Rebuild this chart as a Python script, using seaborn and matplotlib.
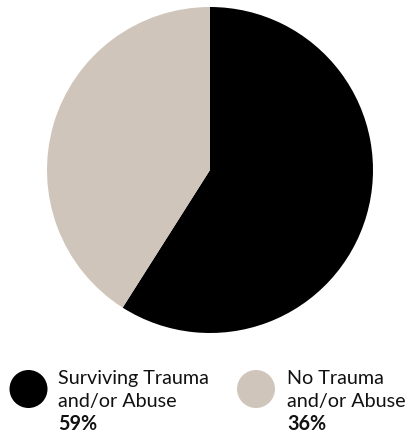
import numpy as np
import matplotlib
matplotlib.use("Agg")
import matplotlib.pyplot as plt
import seaborn as sns

# Survey shares (percent)
labels = ["Surviving Trauma\nand/or Abuse", "No Trauma\nand/or Abuse"]
values = [59, 36]
colors = ["#000000", "#D0C5BA"]

sns.set_theme(style="white")
plt.rcParams["font.family"] = ["Lato", "DejaVu Sans"]

W, H = 409, 437
fig = plt.figure(figsize=(W / 100, H / 100), dpi=100)
fig.patch.set_facecolor("white")

# Pie: the highlighted share is drawn from its percentage, the rest of the circle in beige
cx, cy, r = 210, 170, 163
ax = fig.add_axes([(cx - r) / W, (H - (cy + r)) / H, 2 * r / W, 2 * r / H])
shares = [values[0], 100 - values[0]]
ax.pie(shares, colors=colors, startangle=90, counterclock=False,
       radius=1.0, wedgeprops=dict(linewidth=0))
ax.set_xlim(-1, 1)
ax.set_ylim(-1, 1)
ax.set_aspect("equal")
ax.axis("off")

# Legend row with round swatches
lax = fig.add_axes([0, 0, 1, 1])
lax.set_xlim(0, W)
lax.set_ylim(H, 0)
lax.axis("off")
swatch_x = [28.5, 256]
text_x = [58, 287]
sw_y = 389
lax.scatter(swatch_x, [sw_y] * 2, s=(38 * 0.72) ** 2, c=colors, linewidths=0)
fs = 14.2
for tx, lab, v in zip(text_x, labels, values):
    l1, l2 = lab.split("\n")
    lax.text(tx, 384, l1, fontsize=fs, color="#111111", va="baseline", ha="left")
    lax.text(tx, 407, l2, fontsize=fs, color="#111111", va="baseline", ha="left")
    lax.text(tx, 430, f"{v}%", fontsize=fs, fontweight="bold", color="#111111",
             va="baseline", ha="left")

fig.savefig("out.png", dpi=100)
